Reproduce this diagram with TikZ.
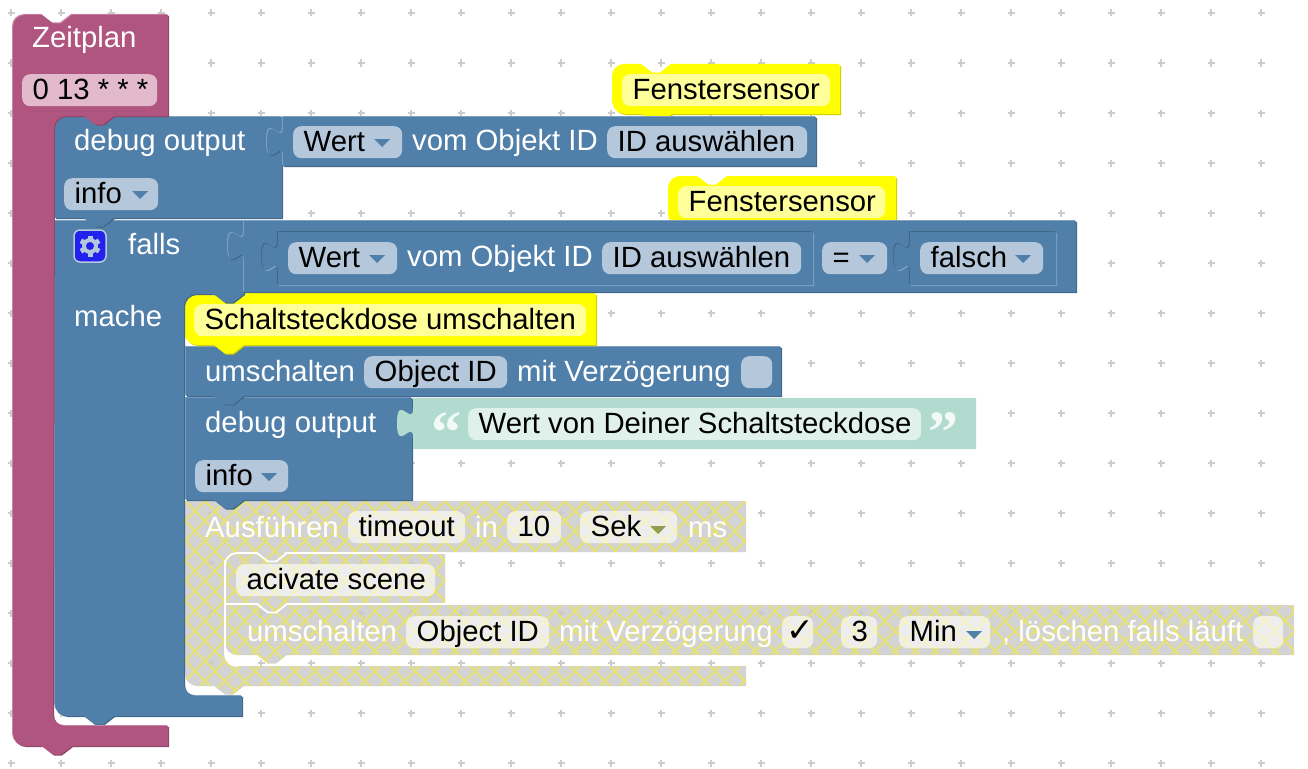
\documentclass[tikz,border=0pt]{standalone}
\usepackage{fontspec}
\setmainfont{Liberation Sans}
\newfontfamily\symfont{DejaVu Sans}
\newfontfamily\quotefont{Liberation Serif}

\definecolor{pinkmain}{HTML}{B0557F}
\definecolor{pinklight}{HTML}{C985A6}
\definecolor{pinkdark}{HTML}{8D4466}
\definecolor{pinkfield}{HTML}{E2BACC}
\definecolor{bluemain}{HTML}{5080AA}
\definecolor{bluelight}{HTML}{7FA0BF}
\definecolor{bluedark}{HTML}{406688}
\definecolor{bluefield}{HTML}{B5C8DB}
\definecolor{yellowmain}{HTML}{FFFF00}
\definecolor{yellowdark}{HTML}{CCCC00}
\definecolor{yellowfield}{HTML}{FFFF99}
\definecolor{tealmain}{HTML}{B2DBCF}
\definecolor{tealfield}{HTML}{E0F1EC}
\definecolor{greymain}{HTML}{CBCBCB}
\definecolor{hatchyellow}{HTML}{E8E370}
\definecolor{gridgrey}{HTML}{CCCCCC}
\definecolor{oliveark}{HTML}{8F9F4F}
\definecolor{gearblue}{HTML}{2222EE}

\newcommand{\blockfont}{\fontsize{29.3}{34}\selectfont}

% pieces of block outlines
\newcommand{\notchr}{-- ++(11,8.5) -- ++(8,0) -- ++(11,-8.5)}
\newcommand{\notchl}{-- ++(-11,8.5) -- ++(-8,0) -- ++(-11,-8.5)}
\newcommand{\cornertl}{.. controls +(0,-6.6) and +(-6.6,0) .. ++(12,-12)}
\newcommand{\cornerbl}{.. controls +(-6.6,0) and +(0,6.6) .. ++(-12,-12)}
\newcommand{\cornerin}{.. controls +(0,6.6) and +(-6.6,0) .. ++(12,12)}
\newcommand{\cornerout}{.. controls +(-6.6,0) and +(0,-6.6) .. ++(-12,12)}
\newcommand{\tabin}{.. controls +(0,20) and +(0,-31) .. ++(-16,15) .. controls +(0,31) and +(0,-20) .. ++(16,15)}

\newcommand{\blockbevel}[4]{%
 \fill[#3,xshift=1pt,yshift=-1pt] #4;
 \fill[#2,xshift=-1pt,yshift=1pt] #4;
 \fill[#1] #4;}
\newcommand{\valueblock}[4]{(#1,#2) -- ++(0,10) \tabin -- (#1,#4) -- (#3,#4) -- (#3,#2) -- cycle}
\newcommand{\fieldbox}[6]{\node[fieldbox,#2,minimum width=#5pt](#1) at (#3,#4){\makebox[\dimexpr#5pt-21pt\relax][l]{#6}};}
\newcommand{\ddarrow}[3]{\fill[#1] (#2,#3) -- ++(16,0) -- ++(-8,8) -- cycle;}
\newcommand{\disabledblocks}{
 (185,501) -- (746,501) -- (746,552) -- (285,552) \notchl -- (237,552) \cornerout -- (225,654) \cornerin -- (746,666) -- (746,686) -- (244,686) \notchl -- (197,686) \cornerbl -- cycle
 (225,565) \cornertl -- (445,553) -- (445,603) -- (287,603) \notchl -- (225,603) -- cycle
 (225,605) -- (1294,605) -- (1294,655) -- (287,655) \notchl -- (237,655) \cornerbl -- cycle}

\tikzset{
 fieldbox/.style={rounded corners=8pt,inner xsep=10.5pt,inner ysep=0pt,text height=25pt,text depth=7pt,anchor=north west,text=black,font=\blockfont},
 onblue/.style={fill=bluefield},
 onpink/.style={fill=pinkfield},
 onyellow/.style={fill=yellowfield},
 onteal/.style={fill=tealfield},
 ongrey/.style={fill=white,fill opacity=0.6,text opacity=1},
 blocktext/.style={anchor=base west,inner sep=0pt,yshift=-1pt,text=white,font=\blockfont},
 gridcross/.style={draw=gridgrey,line width=1.5pt},
 hatchline/.style={draw=hatchyellow,line width=1.8pt},
 whiteedge/.style={draw=white,line width=1.8pt},
 gearbox/.style={draw=bluefield,line width=1.5pt,fill=gearblue,rounded corners=6pt,minimum size=32pt,inner sep=0pt},
 quotemark/.style={inner sep=0pt,text=white,text opacity=0.85,font=\fontsize{60}{60}\bfseries\quotefont},
}

\begin{document}
\begin{tikzpicture}[x=1pt,y=-1pt]
\useasboundingbox (0,0) rectangle (1308,768);

\foreach \x in {11,61,...,1311}
 \foreach \y in {13,63,...,763}
  \draw[gridcross] (\x-3.5,\y) -- (\x+3.5,\y) (\x,\y-3.5) -- (\x,\y+3.5);

% comments above the value blocks
\blockbevel{yellowmain}{yellowmain}{yellowdark}{(613,77) \cornertl -- (642,65) \notchr -- (840,65) -- (840,114) -- (672,114) \notchl -- (625,114) \cornerbl -- cycle}
\blockbevel{yellowmain}{yellowmain}{yellowdark}{(669,189) \cornertl -- (698,177) \notchr -- (896,177) -- (896,227) -- (681,227) \cornerbl -- cycle}

% disabled blocks
\fill[greymain,fill opacity=0.85] \disabledblocks;
\begin{scope}
 \clip \disabledblocks;
 \foreach \d in {-516,-496,...,804}
  \draw[hatchline] (\d+500,500) -- (\d+700,700);
 \foreach \c in {686,706,...,1994}
  \draw[hatchline] (\c-500,500) -- (\c-700,700);
\end{scope}
\draw[whiteedge] (225,565) \cornertl -- (257,553) \notchr -- (445,553);
\draw[whiteedge] (225,560) -- (225,654) \cornerin;
\draw[whiteedge] (225,604) -- (257,604) \notchr -- (445,604);

\node[blocktext](ausfuehren) at (205,536){Ausführen};
\fieldbox{timeout}{ongrey}{348}{511}{117}{timeout}
\node[blocktext](inlabel) at (475,536){in};
\fieldbox{delay}{ongrey}{507}{511}{54}{10}
\fieldbox{sek}{ongrey}{580}{511}{97}{Sek}
\ddarrow{oliveark}{650}{526}
\node[blocktext](mslabel) at (688,536){ms};
\fieldbox{acivate}{ongrey}{236}{564}{199}{acivate scene}
\node[blocktext](umschaltenb) at (247,640){umschalten};
\fieldbox{objectb}{ongrey}{406}{616}{143}{Object ID}
\node[blocktext](verzb) at (559,640){mit Verzögerung};
\fieldbox{check}{ongrey}{782}{616}{31}{\hspace{-6pt}\fontsize{33}{34}\symfont ✓}
\fieldbox{three}{ongrey}{841}{616}{36}{3}
\fieldbox{min}{ongrey}{899}{616}{91}{Min}
\ddarrow{bluemain}{966}{631}
\node[blocktext](loeschen) at (1002,640){, löschen falls läuft};
\fieldbox{emptyc}{ongrey}{1253}{616}{30}{}

% inner statements
\blockbevel{bluemain}{bluelight}{bluedark}{(186,398) -- (412,398) -- (412,500) -- (244,500) \notchl -- (186,500) -- cycle}
\fill[tealmain] \valueblock{413}{398}{976}{449};
\blockbevel{bluemain}{bluelight}{bluedark}{(186,347) -- (781,347) -- (781,396) -- (244,396) \notchl -- (186,396) -- cycle}
\blockbevel{yellowmain}{yellowmain}{yellowdark}{(185,306) \cornertl -- (596,294) -- (596,345) -- (244,345) \notchl -- (197,345) \cornerbl -- cycle}

% falls
\blockbevel{bluemain}{bluelight}{bluedark}{(55,221) -- (244,221) -- (244,294) \notchl -- (196,294) \cornerout -- (184,684) \cornerin -- (242,696) -- (242,716) -- (114,716) \notchl -- (67,716) \cornerbl -- cycle}
\blockbevel{bluemain}{bluelight}{bluedark}{\valueblock{244}{221}{1076}{292}}
\blockbevel{bluemain}{bluedark}{bluelight}{\valueblock{278}{232}{813}{285}}
\blockbevel{bluemain}{bluedark}{bluelight}{\valueblock{910}{232}{1056}{285}}

% first debug block and the Zeitplan around it
\blockbevel{bluemain}{bluelight}{bluedark}{(55,129) \cornertl -- (282,117) -- (282,218) -- (114,218) \notchl -- (55,218) -- cycle}
\blockbevel{bluemain}{bluelight}{bluedark}{\valueblock{283}{117}{816}{166}}
\blockbevel{pinkmain}{pinklight}{pinkdark}{(13,27) \cornertl -- (42,15) \notchr -- (168,15) -- (168,116) -- (114,116) \notchl -- (66,116) \cornerout -- (53,714) \cornerin -- (168,726) -- (168,746) -- (72,746) \notchl -- (25,746) \cornerbl -- cycle}

\node[blocktext](zeitplan) at (32,47){Zeitplan};
\fieldbox{cron}{onpink}{22}{74}{135}{0 13 * * *}

\node[blocktext](debuga) at (74,149){debug output};
\fieldbox{infoa}{onblue}{64}{178}{94}{info}
\ddarrow{bluemain}{132}{191}
\fieldbox{werta}{onblue}{293}{126}{109}{Wert}
\ddarrow{bluemain}{374}{139}
\node[blocktext](voma) at (412,149){vom Objekt ID};
\fieldbox{ida}{onblue}{607}{126}{200}{ID auswählen}
\fieldbox{sensora}{onyellow}{622}{74}{208}{Fenstersensor}
\fieldbox{sensorb}{onyellow}{678}{186}{207}{Fenstersensor}

\node[gearbox](gear) at (90,246){};
\foreach \a in {30,90,...,330}
 \draw[bluefield,line width=5pt] (90,246) -- ++(\a:10.5);
\fill[bluefield] (90,246) circle[radius=8];
\fill[gearblue] (90,246) circle[radius=4];
\node[blocktext](falls) at (128,253){falls};
\node[blocktext](mache) at (74,325){mache};

\fieldbox{wertb}{onblue}{288}{242}{109}{Wert}
\ddarrow{bluemain}{369}{255}
\node[blocktext](vomb) at (407,265){vom Objekt ID};
\fieldbox{idb}{onblue}{602}{242}{199}{ID auswählen}
\fieldbox{equals}{onblue}{822}{242}{65}{=}
\ddarrow{bluemain}{859}{255}
\fieldbox{falsch}{onblue}{920}{242}{123}{falsch}
\ddarrow{bluemain}{1015}{255}

\fieldbox{schalt}{onyellow}{194}{304}{392}{Schaltsteckdose umschalten}

\node[blocktext](umschaltena) at (205,380){umschalten};
\fieldbox{objecta}{onblue}{364}{356}{143}{Object ID}
\node[blocktext](verza) at (517,380){mit Verzögerung};
\fieldbox{emptya}{onblue}{741}{356}{31}{}

\node[blocktext](debugb) at (205,431){debug output};
\fieldbox{infob}{onblue}{195}{460}{93}{info}
\ddarrow{bluemain}{261}{473}
\node[quotemark](openquote) at (446,433){“};
\fieldbox{message}{onteal}{468}{408}{453}{Wert von Deiner Schaltsteckdose}
\node[quotemark](closequote) at (943,433){”};

\end{tikzpicture}
\end{document}
